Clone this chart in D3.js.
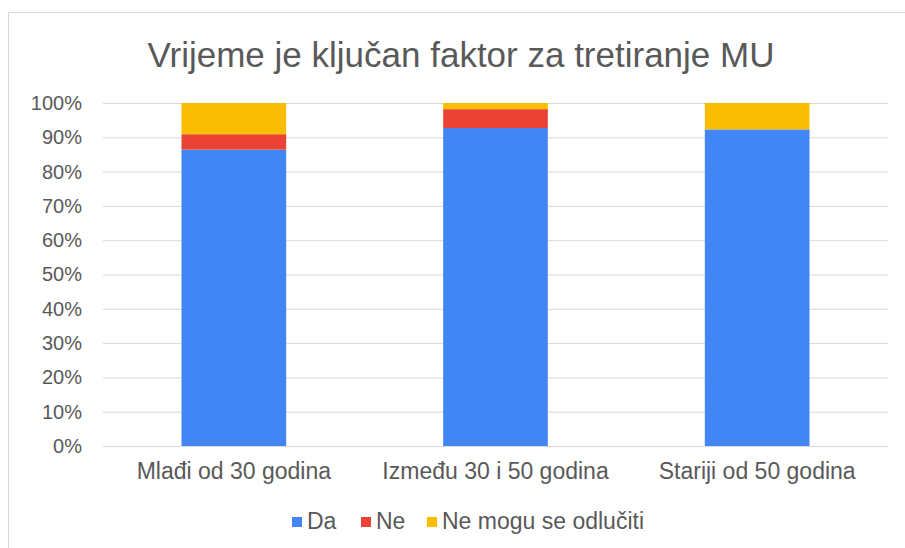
<!DOCTYPE html>
<html>
<head>
<meta charset="utf-8">
<script src="https://cdn.jsdelivr.net/npm/d3@7"></script>
<style>
  body { margin: 0; background: #fff; }
  text { font-family: "Liberation Sans", Arial, sans-serif; fill: #595959; }
</style>
</head>
<body>
<svg id="chart"></svg>
<script>
const width = 905;
const height = 548;

const categories = ["Mlađi od 30 godina", "Između 30 i 50 godina", "Stariji od 50 godina"];
const seriesNames = ["Da", "Ne", "Ne mogu se odlučiti"];
const da = [86.4, 92.7, 92.3];
const ne = [4.5, 5.5, 0];
const neMogu = [9.1, 1.8, 7.7];
const yTicks = [0, 10, 20, 30, 40, 50, 60, 70, 80, 90, 100];
const colors = ["#4285F4", "#EA4335", "#FBBC04"];

const svg = d3.select("#chart")
    .attr("width", width)
    .attr("height", height);

// chart frame
svg.append("rect")
    .attr("x", 8.5)
    .attr("y", 12.5)
    .attr("width", 920)
    .attr("height", 560)
    .attr("fill", "none")
    .attr("stroke", "#d9d9d9");

const margin = {top: 103, right: 17, bottom: 102, left: 103};

const x = d3.scaleBand()
    .domain(categories)
    .range([margin.left, width - margin.right])
    .paddingInner(0.6)
    .paddingOuter(0.3);

const y = d3.scaleLinear()
    .domain([0, 100])
    .range([height - margin.bottom, margin.top]);

// gridlines
svg.append("g")
    .selectAll("line")
    .data(yTicks)
    .enter()
    .append("line")
    .attr("x1", margin.left)
    .attr("x2", width - margin.right)
    .attr("y1", d => y(d) + 0.5)
    .attr("y2", d => y(d) + 0.5)
    .attr("stroke", "#d9d9d9")
    .attr("stroke-width", 1);

// y axis labels
const yAxis = svg.append("g")
    .attr("transform", `translate(${margin.left - 18},0)`)
    .call(d3.axisLeft(y).tickValues(yTicks).tickFormat(d => d + "%").tickSize(0));
yAxis.select(".domain").remove();
yAxis.selectAll("text")
    .attr("font-size", 20)
    .attr("font-family", "Liberation Sans, Arial, sans-serif")
    .attr("fill", "#595959");

// stacked data
const rows = categories.map((c, i) => ({cat: c, "Da": da[i], "Ne": ne[i], "Ne mogu se odlučiti": neMogu[i]}));
const stacked = d3.stack().keys(seriesNames)(rows);

svg.append("g")
    .selectAll("g")
    .data(stacked)
    .enter()
    .append("g")
    .attr("fill", (d, i) => colors[i])
    .selectAll("rect")
    .data(d => d)
    .enter()
    .append("rect")
    .attr("x", d => x(d.data.cat))
    .attr("width", x.bandwidth())
    .attr("y", d => y(Math.min(d[1], 100)))
    .attr("height", d => y(d[0]) - y(Math.min(d[1], 100)));

// x axis labels
const xAxis = svg.append("g")
    .attr("transform", `translate(0,${height - margin.bottom + 14})`)
    .call(d3.axisBottom(x).tickSize(0));
xAxis.select(".domain").remove();
xAxis.selectAll("text")
    .attr("font-size", 23)
    .attr("font-family", "Liberation Sans, Arial, sans-serif")
    .attr("fill", "#595959");

// title
svg.append("text")
    .attr("x", 461)
    .attr("y", 67)
    .attr("text-anchor", "middle")
    .attr("font-size", 35)
    .text("Vrijeme je ključan faktor za tretiranje MU");

// legend
const legendX = [292, 361, 427];
const legend = svg.append("g")
    .selectAll("g")
    .data(seriesNames)
    .enter()
    .append("g")
    .attr("transform", (d, i) => `translate(${legendX[i]},529)`);

legend.append("rect")
    .attr("x", 0)
    .attr("y", -12)
    .attr("width", 10)
    .attr("height", 10)
    .attr("fill", (d, i) => colors[i]);

legend.append("text")
    .attr("x", 15)
    .attr("y", 0)
    .attr("font-size", 23)
    .text(d => d);
</script>
</body>
</html>
